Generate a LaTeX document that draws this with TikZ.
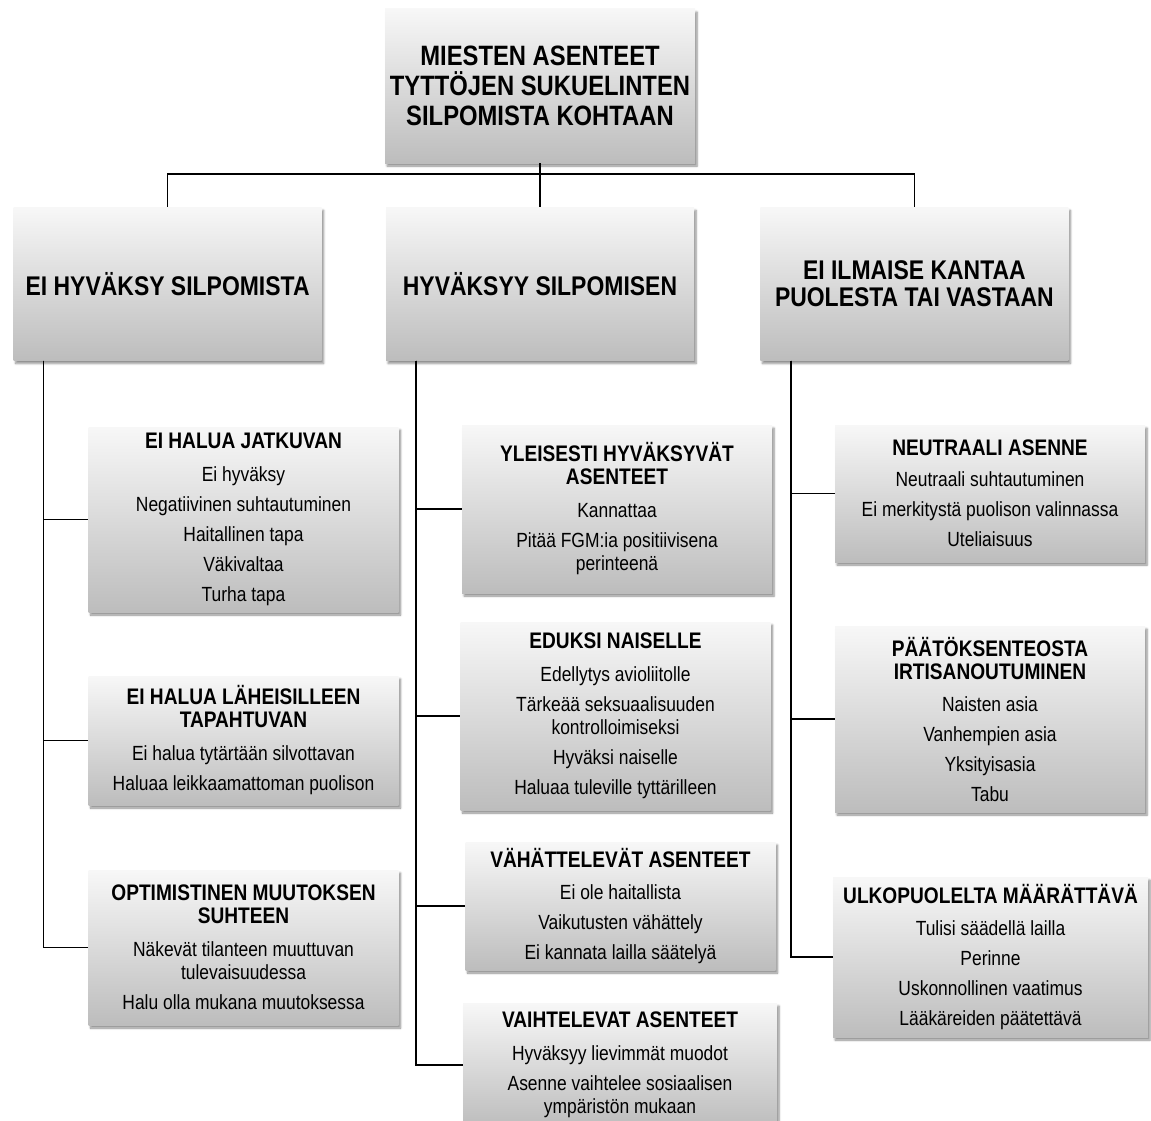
\documentclass[tikz,border=0pt]{standalone}
\usepackage{fontspec}
\setmainfont{Liberation Sans}[FakeStretch=0.85]
\usetikzlibrary{positioning,shadows.blur}

\newcommand{\otsake}{\bfseries\fontsize{22.5}{23}\selectfont}

\tikzset{
  laatikko/.style={rectangle, top color=black!3, bottom color=black!26,
    blur shadow={shadow xshift=2pt, shadow yshift=-3pt, shadow blur steps=6, shadow opacity=45},
    inner sep=2pt, align=center, text=black},
  paaboksi/.style={laatikko, minimum width=310pt, minimum height=154pt,
    font=\bfseries\fontsize{28}{30}\selectfont},
  tasoboksi/.style={laatikko, minimum width=308pt, minimum height=153pt,
    font=\bfseries\fontsize{27}{27}\selectfont},
  alaboksi/.style={laatikko, minimum width=310pt, font=\fontsize{20.5}{23}\selectfont},
  yhteys/.style={line width=1.6pt, black}
}

\begin{document}
\begin{tikzpicture}[x=1pt,y=-1pt]
  \useasboundingbox (0,0) rectangle (1151,1121);
  \node [paaboksi] (otsikko) at (540,86) {MIESTEN ASENTEET\\TYTTÖJEN SUKUELINTEN\\SILPOMISTA KOHTAAN};
  \node [tasoboksi] (hyvaksyy) [below=44pt of otsikko] {HYVÄKSYY SILPOMISEN};
  \node [tasoboksi] (eihyvaksy) [left=64pt of hyvaksyy] {EI HYVÄKSY SILPOMISTA};
  \node [tasoboksi] (eikantaa) [right=66pt of hyvaksyy] {EI ILMAISE KANTAA\\PUOLESTA TAI VASTAAN};

  \node [alaboksi, minimum height=185pt] (jatkuvan) at (243.5,519.5)
    {{\otsake EI HALUA JATKUVAN}\\[10pt] Ei hyväksy\\[7pt] Negatiivinen suhtautuminen\\[7pt]
     Haitallinen tapa\\[7pt] Väkivaltaa\\[7pt] Turha tapa};
  \node [alaboksi, minimum height=129pt] (laheisilleen) at (243.5,740.5)
    {{\otsake EI HALUA LÄHEISILLEEN}\\{\otsake TAPAHTUVAN}\\[10pt]
     Ei halua tytärtään silvottavan\\[7pt] Haluaa leikkaamattoman puolison};
  \node [alaboksi, minimum height=155pt] (optimistinen) at (243.5,947.5)
    {{\otsake OPTIMISTINEN MUUTOKSEN}\\{\otsake SUHTEEN}\\[10pt]
     Näkevät tilanteen muuttuvan\\tulevaisuudessa\\[7pt] Halu olla mukana muutoksessa};

  \node [alaboksi, minimum height=168pt] (yleisesti) at (617,509)
    {{\otsake YLEISESTI HYVÄKSYVÄT}\\{\otsake ASENTEET}\\[10pt] Kannattaa\\[7pt]
     Pitää FGM:ia positiivisena\\perinteenä};
  \node [alaboksi, minimum height=188pt] (eduksi) at (615.5,716)
    {{\otsake EDUKSI NAISELLE}\\[10pt] Edellytys avioliitolle\\[7pt] Tärkeää seksuaalisuuden\\kontrolloimiseksi\\[7pt]
     Hyväksi naiselle\\[7pt] Haluaa tuleville tyttärilleen};
  \node [alaboksi, minimum height=128pt] (vahattelevat) at (620.5,906)
    {{\otsake VÄHÄTTELEVÄT ASENTEET}\\[9pt] Ei ole haitallista\\[7pt] Vaikutusten vähättely\\[7pt]
     Ei kannata lailla säätelyä};
  \node [alaboksi, minimum width=314pt, minimum height=124pt] (vaihtelevat) at (620,1065)
    {{\otsake VAIHTELEVAT ASENTEET}\\[10pt] Hyväksyy lievimmät muodot\\[7pt]
     Asenne vaihtelee sosiaalisen\\ympäristön mukaan};

  \node [alaboksi, minimum height=137pt] (neutraali) at (990,493.5)
    {{\otsake NEUTRAALI ASENNE}\\[8pt] Neutraali suhtautuminen\\[7pt] Ei merkitystä puolison valinnassa\\[7pt]
     Uteliaisuus};
  \node [alaboksi, minimum height=186pt] (paatos) at (990,719)
    {{\otsake PÄÄTÖKSENTEOSTA}\\{\otsake IRTISANOUTUMINEN}\\[9pt] Naisten asia\\[7pt] Vanhempien asia\\[7pt]
     Yksityisasia\\[7pt] Tabu};
  \node [alaboksi, minimum width=315pt, minimum height=160pt] (ulkopuolelta) at (990.5,957)
    {{\otsake ULKOPUOLELTA MÄÄRÄTTÄVÄ}\\[9pt] Tulisi säädellä lailla\\[7pt] Perinne\\[7pt]
     Uskonnollinen vaatimus\\[7pt] Lääkäreiden päätettävä};

  \coordinate (haara) at (540,174);
  \draw [yhteys] (otsikko.south) -- (haara);
  \foreach \taso in {eihyvaksy,hyvaksyy,eikantaa}
    \draw [yhteys] (haara) -| (\taso.north);
  \foreach \lapsi in {jatkuvan,laheisilleen,optimistinen}
    \draw [yhteys] ([xshift=30pt]eihyvaksy.south west) |- (\lapsi.west);
  \foreach \lapsi in {yleisesti,eduksi,vahattelevat,vaihtelevat}
    \draw [yhteys] ([xshift=30pt]hyvaksyy.south west) |- (\lapsi.west);
  \foreach \lapsi in {neutraali,paatos,ulkopuolelta}
    \draw [yhteys] ([xshift=31pt]eikantaa.south west) |- (\lapsi.west);
\end{tikzpicture}
\end{document}
